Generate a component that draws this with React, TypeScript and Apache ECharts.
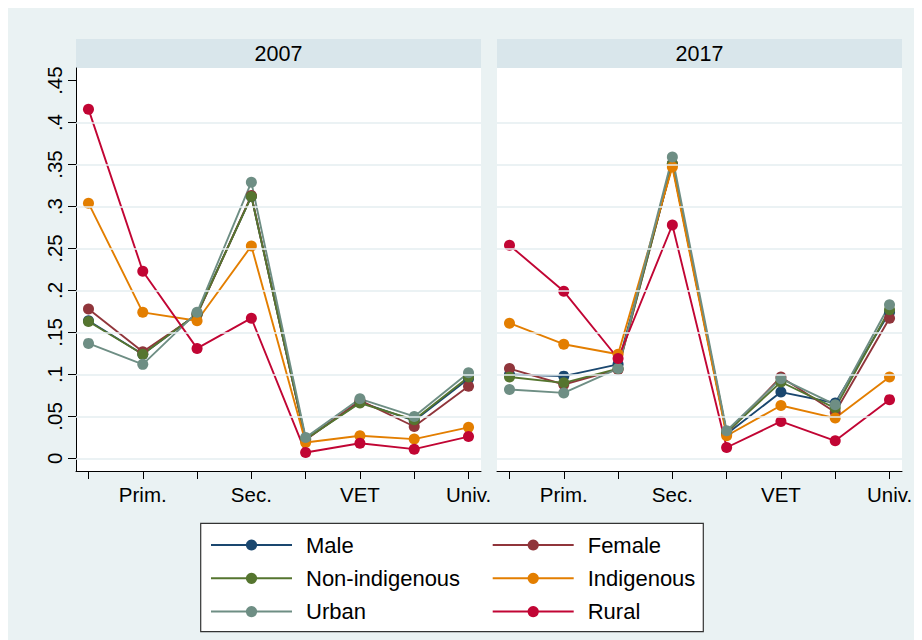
import React, { useEffect, useRef } from 'react';
import * as echarts from 'echarts';

const years = ['2007', '2017'];
const xPositions = [1, 2, 3, 4, 5, 6, 7, 8];
const xTickLabels = ['', 'Prim.', '', 'Sec.', '', 'VET', '', 'Univ.'];
const yTicks = [0, 0.05, 0.1, 0.15, 0.2, 0.25, 0.3, 0.35, 0.4, 0.45];
const gridValues = [0, 0.05, 0.1, 0.15, 0.2, 0.25, 0.3, 0.35, 0.4];

const seriesNames = ['Male', 'Female', 'Non-indigenous', 'Indigenous', 'Urban', 'Rural'];
const seriesColors = ['#1a476f', '#90353b', '#55752f', '#e37e00', '#6e8e84', '#c10534'];

const male2007 = [0.164, 0.124, 0.172, 0.312, 0.023, 0.067, 0.045, 0.095];
const female2007 = [0.178, 0.127, 0.171, 0.313, 0.022, 0.069, 0.038, 0.086];
const nonIndigenous2007 = [0.163, 0.124, 0.172, 0.312, 0.023, 0.066, 0.046, 0.097];
const indigenous2007 = [0.304, 0.174, 0.164, 0.253, 0.019, 0.027, 0.023, 0.037];
const urban2007 = [0.137, 0.112, 0.174, 0.329, 0.025, 0.071, 0.05, 0.102];
const rural2007 = [0.416, 0.223, 0.131, 0.167, 0.007, 0.018, 0.011, 0.026];

const male2017 = [0.1, 0.098, 0.112, 0.35, 0.029, 0.079, 0.066, 0.174];
const female2017 = [0.107, 0.088, 0.106, 0.351, 0.03, 0.097, 0.055, 0.167];
const nonIndigenous2017 = [0.097, 0.09, 0.107, 0.351, 0.031, 0.091, 0.06, 0.177];
const indigenous2017 = [0.161, 0.136, 0.124, 0.347, 0.027, 0.063, 0.048, 0.097];
const urban2017 = [0.082, 0.078, 0.107, 0.359, 0.033, 0.095, 0.064, 0.183];
const rural2017 = [0.254, 0.199, 0.119, 0.278, 0.013, 0.044, 0.021, 0.07];

const data2007 = [male2007, female2007, nonIndigenous2007, indigenous2007, urban2007, rural2007];
const data2017 = [male2017, female2017, nonIndigenous2017, indigenous2017, urban2017, rural2017];
const panelData = [data2007, data2017];

const FONT = "'Liberation Sans', Arial, sans-serif";

export default function App() {
  const ref = useRef<HTMLDivElement>(null);
  useEffect(() => {
    if (!ref.current) return;
    const chart = echarts.init(ref.current, null, { renderer: 'svg' });
    const gridLefts = [68, 489];
    const gridW = 405;
    const gridTop = 60;
    const gridH = 403;

    const fmtY = (v: number) => {
      if (Math.abs(v) < 1e-9) return '0';
      return String(+v.toFixed(2)).replace(/^0/, '');
    };

    const series: any[] = [];
    panelData.forEach((panel, g) => {
      series.push({
        type: 'line',
        name: '_grid' + g,
        xAxisIndex: g,
        yAxisIndex: g,
        data: [],
        z: 1,
        silent: true,
        markLine: {
          silent: true,
          symbol: ['none', 'none'],
          label: { show: false },
          lineStyle: { color: '#e5eef1', width: 1.6, type: 'solid' },
          data: gridValues.map((v) => ({ yAxis: v })),
        },
      });
      panel.forEach((vals, s) => {
        series.push({
          type: 'line',
          name: seriesNames[s],
          xAxisIndex: g,
          yAxisIndex: g,
          data: vals.map((v, i) => [xPositions[i], v]),
          symbol: 'circle',
          symbolSize: 11,
          showSymbol: true,
          lineStyle: { width: 1.9, color: seriesColors[s] },
          itemStyle: { color: seriesColors[s] },
          z: 2,
        });
      });
    });

    const legendCommon = {
      orient: 'vertical',
      top: 526,
      padding: 0,
      itemWidth: 81,
      itemHeight: 14,
      itemGap: 11.3,
      textStyle: { fontSize: 22, fontFamily: FONT, color: '#000', lineHeight: 22, padding: [0, 0, 0, 9] },
      selectedMode: false,
    };

    chart.setOption({
      animation: false,
      backgroundColor: '#eaf2f3',
      textStyle: { fontFamily: FONT },
      grid: gridLefts.map((l) => ({ left: l, top: gridTop, width: gridW, height: gridH, containLabel: false, show: true, backgroundColor: '#ffffff', borderWidth: 0 })),
      xAxis: gridLefts.map((_, g) => ({
        type: 'value',
        gridIndex: g,
        min: 0.77,
        max: 8.23,
        axisLine: { show: true, onZero: false, lineStyle: { color: '#000', width: 1 } },
        axisTick: { show: true, length: 8, customValues: xPositions, lineStyle: { color: '#000', width: 1 } },
        axisLabel: {
          customValues: xPositions.filter((_, i) => xTickLabels[i] !== ''),
          formatter: (v: number) => xTickLabels[Math.round(v) - 1],
          fontSize: 20.5,
          fontFamily: FONT,
          color: '#000',
          margin: 13,
        },
        splitLine: { show: false },
      })),
      yAxis: gridLefts.map((_, g) => ({
        type: 'value',
        gridIndex: g,
        min: -0.015,
        max: 0.465,
        axisLine: { show: g === 0, onZero: false, lineStyle: { color: '#000', width: 1 } },
        axisTick: { show: g === 0, length: 8, customValues: yTicks, lineStyle: { color: '#000', width: 1 } },
        axisLabel: {
          show: g === 0,
          customValues: yTicks,
          rotate: 90,
          formatter: fmtY,
          fontSize: 20.5,
          fontFamily: FONT,
          color: '#000',
          margin: 11,
        },
        splitLine: { show: false },
      })),
      legend: [
        { ...legendCommon, left: 202, data: ['Male', 'Non-indigenous', 'Urban'] },
        { ...legendCommon, left: 483.7, data: ['Female', 'Indigenous', 'Rural'] },
      ],
      graphic: [
        ...gridLefts.flatMap((l, g) => [
          { type: 'rect', shape: { x: l, y: 31, width: gridW, height: 29 }, style: { fill: '#d9e6eb' }, silent: true },
          {
            type: 'text',
            x: l + gridW / 2,
            y: 45.5,
            style: { text: years[g], fontSize: 21.5, fontFamily: FONT, fill: '#000', textAlign: 'center', textVerticalAlign: 'middle' },
            silent: true,
          },
        ]),
        {
          type: 'rect',
          z: -1,
          shape: { x: 192.7, y: 515.3, width: 502.6, height: 108.4 },
          style: { fill: '#ffffff', stroke: '#333333', lineWidth: 1.2 },
          silent: true,
        },
      ],
      series,
    });
    return () => chart.dispose();
  }, []);
  return <div ref={ref} style={{ width: 914, height: 632 }} />;
}
